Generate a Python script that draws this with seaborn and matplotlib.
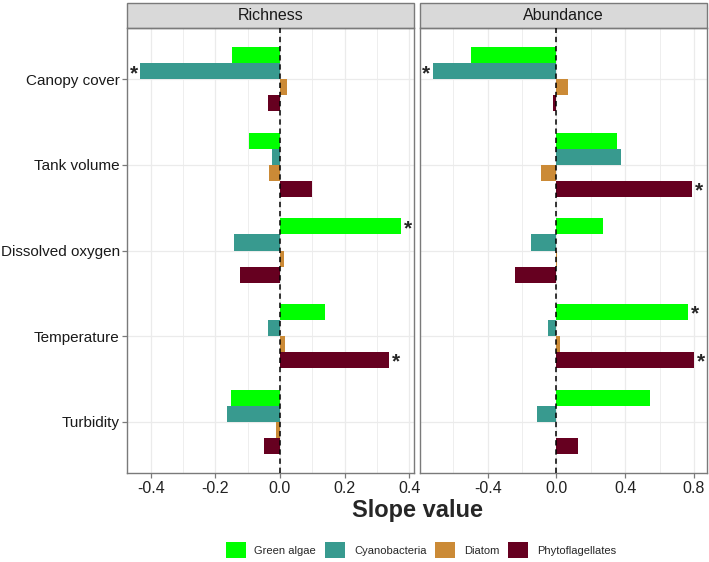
import pandas as pd
import matplotlib
matplotlib.use("Agg")
import matplotlib.pyplot as plt
from matplotlib.patches import Patch, Rectangle
import seaborn as sns
import numpy as np

# data
variables = ["Canopy cover", "Tank volume", "Dissolved oxygen", "Temperature", "Turbidity"]
groups = ["Green algae", "Cyanobacteria", "Diatom", "Phytoflagellates"]
colors = ["#00FF00", "#389A8F", "#CB8A36", "#660020"]

# rows = variables, columns = groups
richness = [
    [-0.148, -0.432, 0.021, -0.036],
    [-0.096, -0.025, -0.034, 0.099],
    [0.374, -0.142, 0.013, -0.123],
    [0.141, -0.037, 0.015, 0.337],
    [-0.152, -0.165, -0.011, -0.049],
]
abundance = [
    [-0.497, -0.718, 0.066, -0.019],
    [0.355, 0.373, -0.087, 0.790],
    [0.268, -0.150, 0.002, -0.239],
    [0.765, -0.048, 0.019, 0.800],
    [0.546, -0.112, -0.005, 0.128],
]
# significance flags (asterisks)
richness_sig = [
    [0, 1, 0, 0],
    [0, 0, 0, 0],
    [1, 0, 0, 0],
    [0, 0, 0, 1],
    [0, 0, 0, 0],
]
abundance_sig = [
    [0, 1, 0, 0],
    [0, 0, 0, 1],
    [0, 0, 0, 0],
    [1, 0, 0, 1],
    [0, 0, 0, 0],
]
panels = ["Richness", "Abundance"]


def long_df(values):
    return pd.DataFrame({
        "variable": np.repeat(variables, len(groups)),
        "group": np.tile(groups, len(variables)),
        "slope": np.array(values).ravel(),
    })


sns.set_style("white")
plt.rcParams["font.family"] = ["Liberation Sans", "DejaVu Sans"]

fig = plt.figure(figsize=(7.09, 5.62), dpi=100)
ax_r = fig.add_axes([127.3 / 709, 89 / 562, 286.5 / 709, 445 / 562])
ax_a = fig.add_axes([420 / 709, 89 / 562, 287 / 709, 445 / 562])

border = "#7a7a7a"
grid_c = "#EBEBEB"

for ax, title, vals, sig, major in [
    (ax_r, panels[0], richness, richness_sig, 0.2),
    (ax_a, panels[1], abundance, abundance_sig, 0.4),
]:
    sns.barplot(data=long_df(vals), y="variable", x="slope", hue="group",
                order=variables, hue_order=groups, palette=colors, orient="h",
                width=0.75, saturation=1, linewidth=0, legend=False, ax=ax)
    ax.set_ylim(len(variables) - 0.4, -0.6)
    ax.margins(x=0.05)
    ax.autoscale_view()
    ax.xaxis.set_major_locator(matplotlib.ticker.MultipleLocator(major))
    ax.xaxis.set_minor_locator(matplotlib.ticker.MultipleLocator(major / 2))
    ax.xaxis.set_major_formatter(matplotlib.ticker.FormatStrFormatter("%.1f"))
    ax.grid(True, which="major", color=grid_c, lw=0.9)
    ax.grid(True, which="minor", axis="x", color=grid_c, lw=0.6)
    ax.set_axisbelow(True)
    ax.axvline(0, color="black", ls=(0, (3.5, 2.5)), lw=1.1, zorder=3)
    for s in ax.spines.values():
        s.set_color(border)
        s.set_linewidth(1.0)
    ax.set_xlabel("")
    ax.set_ylabel("")
    ax.tick_params(axis="x", which="major", bottom=True, length=3.5, width=0.9,
                   color=border, labelsize=11.5, labelcolor="#222222", pad=2)
    ax.tick_params(axis="x", which="minor", bottom=False)

    # strip on top
    h = 25 / 445
    ax.add_patch(Rectangle((0, 1), 1, h, transform=ax.transAxes, clip_on=False,
                           facecolor="#D9D9D9", edgecolor=border, lw=1.0))
    ax.text(0.5, 1 + h / 2, title, transform=ax.transAxes, ha="center",
            va="center", fontsize=11.5, color="#1a1a1a")

    # asterisks at bar ends
    for gi, cont in enumerate(ax.containers):
        for vi, bar in enumerate(cont):
            if sig[vi][gi]:
                v = vals[vi][gi]
                yc = bar.get_y() + bar.get_height() / 2
                ax.annotate("*", xy=(v, yc), xytext=(2 if v > 0 else -2, -1.5),
                            textcoords="offset points",
                            ha="left" if v > 0 else "right", va="center",
                            fontsize=15, fontweight="bold", annotation_clip=False)

ax_r.tick_params(axis="y", left=True, length=3.5, width=0.9, color=border,
                 labelsize=11, labelcolor="#1a1a1a", pad=2)
ax_a.tick_params(axis="y", left=False, labelleft=False)

fig.text(417 / 709, 1 - 510 / 562, "Slope value", ha="center", va="center",
         fontsize=17, fontweight="bold")

handles = [Patch(facecolor=c, edgecolor="none") for c in colors]
fig.legend(handles, groups, ncol=4, frameon=False, fontsize=8,
           loc="center", bbox_to_anchor=(421 / 709, 1 - 550 / 562),
           handlelength=1.8, handleheight=1.8, handletextpad=0.8,
           columnspacing=0.8)

fig.savefig("out.png", dpi=100)
